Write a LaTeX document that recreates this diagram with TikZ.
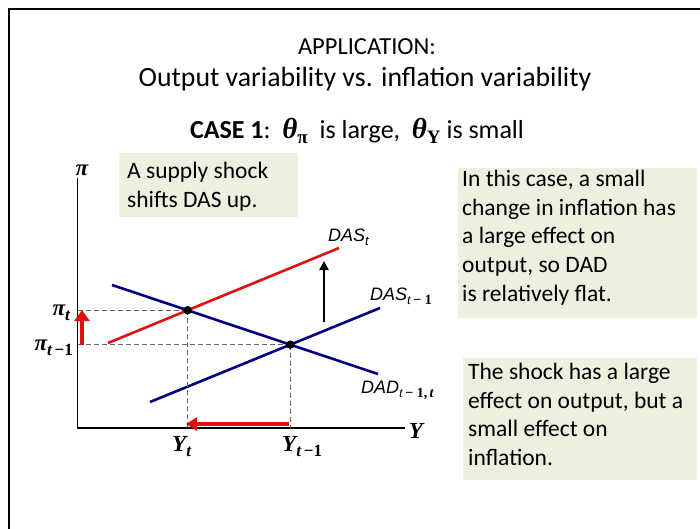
\documentclass[tikz,border=0pt]{standalone}
\usepackage{fontspec}
\setmainfont{Carlito}
\newfontfamily\tnr{Liberation Serif}
\newfontfamily\arial{Liberation Sans}
\usetikzlibrary{arrows.meta,intersections}
\definecolor{boxgreen}{HTML}{EBF1DE}
\definecolor{navy}{RGB}{0,0,128}
\definecolor{shockred}{RGB}{222,16,16}
\definecolor{dashgray}{RGB}{100,100,100}
\newcommand\lowsub[2]{\raisebox{-#1}{#2}}
\begin{document}
\begin{tikzpicture}[x=1pt,y=-1pt,
  curveline/.style={line width=2.6pt},
  axisline/.style={line width=1.4pt},
  guide/.style={dashgray,line width=1pt,dash pattern=on 5pt off 3pt},
  gbox/.style={fill=boxgreen,anchor=north west,font=\fontsize{23.5}{28.7}\selectfont},
  dot/.style={circle,fill=black,inner sep=0pt,minimum size=8.5pt},
  curvelabel/.style={font=\fontsize{18}{18}\selectfont\arial\itshape,inner sep=0pt,anchor=west},
  axislabel/.style={font=\fontsize{23}{23}\selectfont\tnr\bfseries\itshape,inner sep=0pt}
]
\useasboundingbox (0,0) rectangle (700,529);
\draw[line width=2pt] (9,529) -- (9,9) -- (700,9);

% titles
\node[font=\fontsize{24.5}{28}\selectfont] (app) at (367,47) {APPLICATION:};
\node[font=\fontsize{27.8}{32}\selectfont] (sub) at (365,79) {Output variability vs. inflation variability};
\node[font=\fontsize{26}{30}\selectfont] (case) at (357,131)
  {\textbf{CASE 1}:\ \ {\fontsize{29}{29}\selectfont\tnr\bfseries\itshape θ}\lowsub{5pt}{\fontsize{19}{19}\selectfont\tnr\bfseries π}\ \ is large,\ \ {\fontsize{29}{29}\selectfont\tnr\bfseries\itshape θ}\lowsub{5pt}{\fontsize{19}{19}\selectfont\tnr\bfseries Y}\ is small};

% green boxes
\node[gbox,inner xsep=8pt,inner ysep=9pt] (b1) at (119,153)
  {\parbox[t][46pt][t]{163pt}{A supply shock\\shifts DAS up.}};
\node[gbox,inner xsep=4pt,inner ysep=2pt] (b2) at (458,168)
  {\parbox[t][146pt][t]{231pt}{In this case, a small\\change in inflation has\\a large effect on\\output, so DAD\\is relatively flat.}};
\node[gbox,inner xsep=5pt,inner ysep=5pt] (b3) at (463,358)
  {\parbox[t][112pt][t]{224pt}{The shock has a large\\effect on output, but a\\small effect on\\inflation.}};

% axes
\coordinate (O) at (77.7,428);
\coordinate (ytop) at (77.7,178);
\coordinate (xend) at (405,428);
\draw[axisline] (ytop) -- (O) -- (xend);

% curves
\coordinate (r1) at (108,343); \coordinate (r2) at (339,248);
\coordinate (s1) at (150,402); \coordinate (s2) at (380,308);
\coordinate (d1) at (112,285); \coordinate (d2) at (378,374);
\draw[curveline,navy,name path=dad] (d1) -- (d2);
\draw[curveline,navy,name path=das1] (s1) -- (s2);
\draw[curveline,shockred,name path=das0] (r1) -- (r2);
\path[name intersections={of=das0 and dad,by=Et}];
\path[name intersections={of=das1 and dad,by=Eo}];

% guides
\draw[guide] (O |- Et) -- (Et);
\draw[guide] (O |- Eo) -- (Eo);
\draw[guide] (Et) -- (Et |- O);
\draw[guide] (Eo) -- (Eo |- O);

% arrows
\coordinate (ya) at (82,345); \coordinate (yb) at (82,310);
\draw[shockred,line width=3.2pt,-{Triangle[width=15pt,length=11pt]}] (ya) -- (yb);
\coordinate (xa) at (289,424); \coordinate (xb) at (186,424);
\draw[shockred,line width=4pt,-{Triangle[width=13pt,length=11pt]}] (xa) -- (xb);
\coordinate (ua) at (324,322); \coordinate (ub) at (324,261);
\draw[black,line width=2.8pt,-{Triangle[width=9pt,length=9pt]}] (ua) -- (ub);

% dots
\node[dot] (pt) at (Et) {};
\node[dot] (po) at (Eo) {};

% labels
\node[curvelabel] (ldast) at (328,237) {DAS\lowsub{4pt}{\fontsize{13}{13}\selectfont t}};
\node[curvelabel] (ldas1) at (370,296) {DAS\lowsub{4pt}{\fontsize{14}{14}\selectfont\tnr\itshape t\,\upshape\bfseries − 1}};
\node[curvelabel] (ldad) at (361,390) {DAD\lowsub{4pt}{\fontsize{14}{14}\selectfont\tnr\itshape t\,\upshape\bfseries − 1,\,\itshape t}};
\node[axislabel] (lpi) at (82,170) {π};
\node[axislabel,anchor=east] (lpit) at (70,313) {π\lowsub{5pt}{\fontsize{17}{17}\selectfont t}};
\node[axislabel,anchor=east] (lpio) at (73,348) {π\lowsub{5pt}{\fontsize{17}{17}\selectfont t\,\upshape−1}};
\node[axislabel,anchor=west] (lyt) at (172,447) {Y\lowsub{5pt}{\fontsize{17}{17}\selectfont t}};
\node[axislabel,anchor=west] (lyo) at (282,447) {Y\lowsub{5pt}{\fontsize{17}{17}\selectfont t\,\upshape−1}};
\node[axislabel] (ly) at (416,431) {Y};
\end{tikzpicture}
\end{document}
